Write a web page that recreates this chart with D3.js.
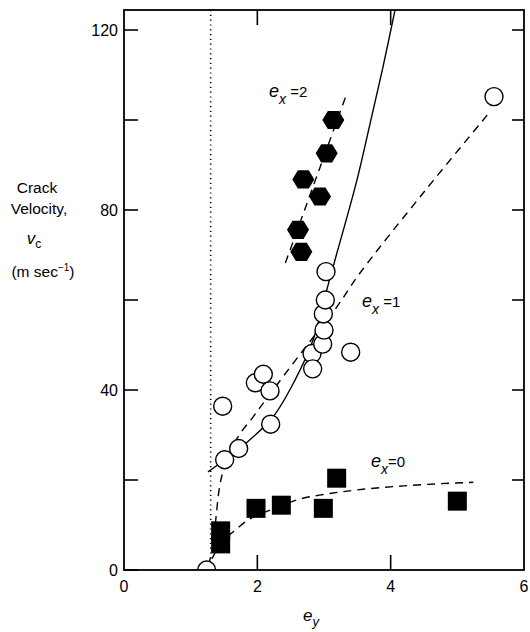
<!DOCTYPE html>
<html>
<head>
<meta charset="utf-8">
<script src="https://cdn.jsdelivr.net/npm/d3@7"></script>
<style>
  html, body { margin: 0; padding: 0; background: #fff; }
  svg text { font-family: "Liberation Sans", Arial, sans-serif; fill: #000; }
</style>
</head>
<body>
<svg id="chart" width="530" height="632"></svg>
<script>
// ---------- data ----------
const xTickValues = [0, 2, 4, 6];
const xTickLabels = ["0", "2", "4", "6"];
const yMajorTicks = [0, 40, 80, 120];
const yTickLabels = ["0", "40", "80", "120"];
const yAllTicks = [0, 20, 40, 60, 80, 100, 120];

// open circles (e_x = 1)
const circleX = [1.24, 1.51, 1.72, 1.48, 1.97, 2.09, 2.19, 2.20, 2.82, 2.83, 2.98, 3.00, 2.99, 3.02, 3.03, 3.40, 5.55];
const circleY = [0, 24.5, 27, 36.4, 41.6, 43.5, 39.8, 32.4, 48.1, 44.7, 50.2, 53.3, 56.9, 60.0, 66.3, 48.4, 105.2];

// filled hexagons (e_x = 2)
const hexX = [3.14, 3.04, 2.69, 2.94, 2.61, 2.66];
const hexY = [100, 92.6, 86.8, 83.0, 75.6, 70.7];

// filled squares (e_x = 0)
const squareX = [1.45, 1.45, 1.98, 2.36, 2.99, 3.19, 5.0];
const squareY = [8.7, 5.8, 13.7, 14.4, 13.7, 20.4, 15.3];

// solid curve
const solidX = [1.26, 1.845, 2.235, 2.565, 2.835, 3.0, 3.165, 3.495, 3.72, 3.885, 4.065];
const solidY = [21.8, 28.4, 34.0, 42.2, 51.1, 60.0, 68.9, 86.7, 101.1, 111.8, 124.4];

// dashed curve e_x = 1
const dash1X = [1.27, 1.32, 1.365, 1.44, 1.53, 1.71, 1.94, 2.14, 2.69, 3.17, 3.54, 4.5, 5.5];
const dash1Y = [1, 4.5, 9.6, 19, 24, 29.6, 34.1, 38.1, 48.9, 58, 66, 84, 102];

// dashed line e_x = 2
const dash2X = [2.42, 3.34];
const dash2Y = [68.2, 105.8];

// dashed curve e_x = 0
const dash0X = [1.32, 1.45, 1.64, 1.86, 2.19, 2.67, 3.0, 3.5, 4.2, 5.24];
const dash0Y = [2.5, 6, 8.5, 11.1, 13.3, 15.9, 16.8, 17.8, 18.7, 19.5];

const dottedX = 1.30;

// ---------- layout ----------
const svg = d3.select("#chart");
const mLeft = 124, mRight = 524, mTop = 10, mBottom = 570;
const x = d3.scaleLinear().domain([0, 6]).range([mLeft, mRight]);
const y = d3.scaleLinear().domain([0, 120]).range([mBottom, 30]);
const yTopVal = y.invert(mTop);

svg.append("defs").append("clipPath").attr("id", "plotclip")
  .append("rect").attr("x", mLeft).attr("y", mTop).attr("width", mRight - mLeft).attr("height", mBottom - mTop);

const plot = svg.append("g").attr("clip-path", "url(#plotclip)");

// dotted vertical line
plot.append("line")
  .attr("x1", x(dottedX)).attr("x2", x(dottedX))
  .attr("y1", y(yTopVal)).attr("y2", y(0))
  .attr("stroke", "#000").attr("stroke-width", 1.6)
  .attr("stroke-dasharray", "1.2,3.6");

const line = d3.line().x(d => x(d[0])).y(d => y(d[1])).curve(d3.curveMonotoneX);
const smooth = d3.line().x(d => x(d[0])).y(d => y(d[1])).curve(d3.curveCatmullRom.alpha(0.5));
const zip = (a, b) => a.map((v, i) => [v, b[i]]);

plot.append("path").attr("d", smooth(zip(solidX, solidY)))
  .attr("fill", "none").attr("stroke", "#000").attr("stroke-width", 1.4);
plot.append("path").attr("d", smooth(zip(dash1X, dash1Y)))
  .attr("fill", "none").attr("stroke", "#000").attr("stroke-width", 1.4).attr("stroke-dasharray", "8,6");
plot.append("path").attr("d", d3.line().x(d => x(d[0])).y(d => y(d[1]))(zip(dash2X, dash2Y)))
  .attr("fill", "none").attr("stroke", "#000").attr("stroke-width", 1.4).attr("stroke-dasharray", "8,6");
plot.append("path").attr("d", line(zip(dash0X, dash0Y)))
  .attr("fill", "none").attr("stroke", "#000").attr("stroke-width", 1.4).attr("stroke-dasharray", "8,6");

// squares
const sq = 19;
plot.selectAll("rect.sq").data(zip(squareX, squareY)).enter().append("rect")
  .attr("class", "sq")
  .attr("x", d => x(d[0]) - sq / 2).attr("y", d => y(d[1]) - sq / 2)
  .attr("width", sq).attr("height", sq).attr("fill", "#000");

// hexagons
const hexPts = d3.range(6).map(i => {
  const a = Math.PI / 3 * i;
  return [11 * Math.cos(a), 10.5 * Math.sin(a)];
});
plot.selectAll("path.hex").data(zip(hexX, hexY)).enter().append("path")
  .attr("class", "hex")
  .attr("d", d => "M" + hexPts.map(p => [x(d[0]) + p[0], y(d[1]) + p[1]].join(",")).join("L") + "Z")
  .attr("fill", "#000");

// circles
plot.selectAll("circle.c").data(zip(circleX, circleY)).enter().append("circle")
  .attr("class", "c")
  .attr("cx", d => x(d[0])).attr("cy", d => y(d[1])).attr("r", 9)
  .attr("fill", "#fff").attr("stroke", "#000").attr("stroke-width", 1.4);

// ---------- frame and ticks ----------
svg.append("rect").attr("x", mLeft).attr("y", mTop).attr("width", mRight - mLeft).attr("height", mBottom - mTop)
  .attr("fill", "none").attr("stroke", "#000").attr("stroke-width", 1.8);

const tickG = svg.append("g").attr("stroke", "#000").attr("stroke-width", 1.6);
yAllTicks.forEach(v => {
  tickG.append("line").attr("x1", mLeft).attr("x2", mLeft + 14).attr("y1", y(v)).attr("y2", y(v));
  if (v > 0) tickG.append("line").attr("x1", mRight).attr("x2", mRight - 12).attr("y1", y(v)).attr("y2", y(v));
});
[2, 4].forEach(v => {
  tickG.append("line").attr("x1", x(v)).attr("x2", x(v)).attr("y1", mBottom).attr("y2", mBottom - 15);
  tickG.append("line").attr("x1", x(v)).attr("x2", x(v)).attr("y1", mTop).attr("y2", mTop + 15);
});

// tick labels
svg.selectAll("text.xt").data(xTickValues).enter().append("text")
  .attr("x", d => x(d)).attr("y", 592).attr("text-anchor", "middle")
  .attr("font-size", 16).text((d, i) => xTickLabels[i]);
svg.selectAll("text.yt").data(yMajorTicks).enter().append("text")
  .attr("x", 118).attr("y", d => y(d) + 6).attr("text-anchor", "end")
  .attr("font-size", 16).text((d, i) => yTickLabels[i]);

// axis titles
const yt = svg.append("g").attr("font-size", 15.5).attr("text-anchor", "middle");
yt.append("text").attr("x", 37).attr("y", 193).text("Crack");
yt.append("text").attr("x", 39).attr("y", 214).text("Velocity,");
const vc = yt.append("text").attr("x", 34).attr("y", 244);
vc.append("tspan").attr("font-style", "italic").attr("font-size", 17).text("v");
vc.append("tspan").attr("font-size", 12).attr("dy", 4).text("c");
const ms = yt.append("text").attr("x", 43).attr("y", 277);
ms.append("tspan").text("(m sec");
ms.append("tspan").attr("font-size", 10).attr("dy", -6).text("−1");
ms.append("tspan").attr("dy", 6).text(")");

const ey = svg.append("text").attr("x", 303).attr("y", 621).attr("font-size", 17);
ey.append("tspan").attr("font-style", "italic").text("e");
ey.append("tspan").attr("font-style", "italic").attr("font-size", 13).attr("dy", 5).text("y");

// curve labels
function exLabel(px, py, val) {
  const t = svg.append("text").attr("x", px).attr("y", py);
  t.append("tspan").attr("font-style", "italic").attr("font-size", 18).text("e");
  t.append("tspan").attr("font-style", "italic").attr("font-size", 14).attr("dy", 7).text("x");
  t.append("tspan").attr("dy", -7).attr("font-size", 15).text(val);
}
exLabel(269, 97, " =2");
exLabel(362, 307, " =1");
exLabel(371, 467, "=0");
</script>
</body>
</html>
